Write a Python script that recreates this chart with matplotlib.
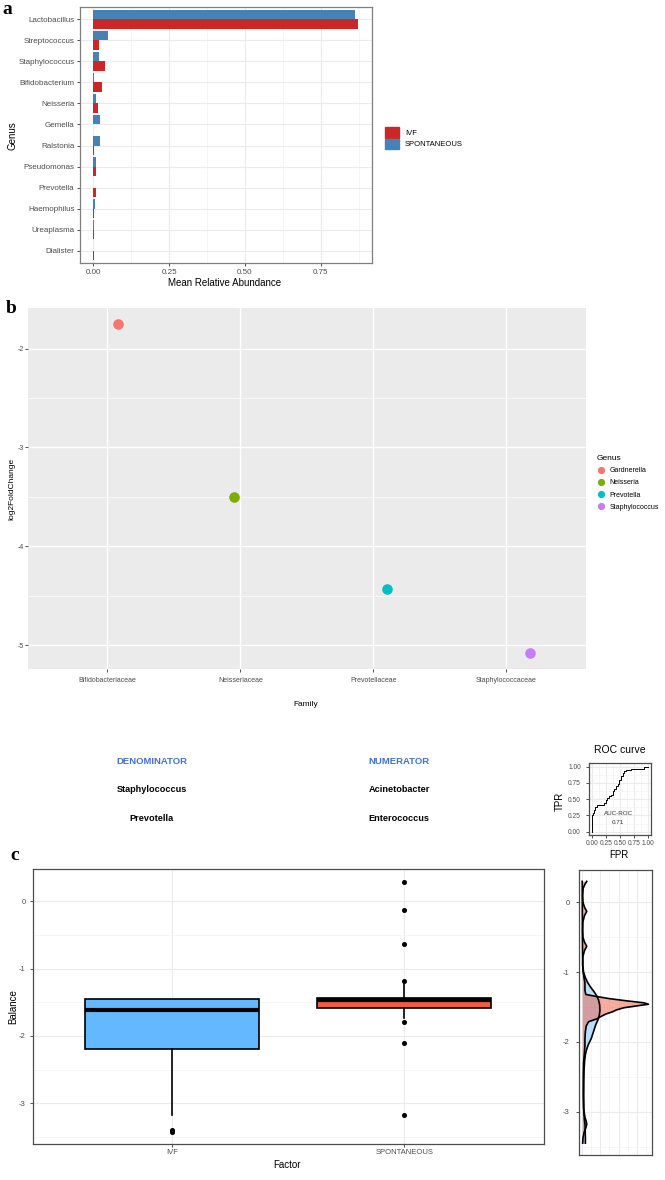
import matplotlib
matplotlib.use('Agg')
import matplotlib.pyplot as plt
from matplotlib.patches import Patch
from matplotlib.lines import Line2D
from matplotlib.ticker import FixedLocator

plt.rcParams['font.family'] = ['Liberation Sans', 'DejaVu Sans']
plt.rcParams['axes.unicode_minus'] = False

W, H = 665, 1180

# ---- data: panel a (mean relative abundance) ----
genera = ['Lactobacillus', 'Streptococcus', 'Staphylococcus', 'Bifidobacterium',
          'Neisseria', 'Gemella', 'Ralstonia', 'Pseudomonas', 'Prevotella',
          'Haemophilus', 'Ureaplasma', 'Dialister']
ivf_abund = [0.874, 0.020, 0.038, 0.030, 0.016, 0.000, 0.003, 0.009, 0.010, 0.003, 0.003, 0.003]
spont_abund = [0.864, 0.048, 0.019, 0.003, 0.008, 0.021, 0.021, 0.010, 0.000, 0.006, 0.004, 0.000]

# ---- data: panel b (log2 fold change) ----
families = ['Bifidobacteriaceae', 'Neisseriaceae', 'Prevotellaceae', 'Staphylococcaceae']
lfc_genus = ['Gardnerella', 'Neisseria', 'Prevotella', 'Staphylococcus']
lfc = [-1.75, -3.50, -4.43, -5.08]
lfc_jitter = [0.08, -0.05, 0.10, 0.18]
genus_colors = ['#F8766D', '#7CAE00', '#00BFC4', '#C77CFF']

# ---- data: panel c (balance) ----
denominator = ['Staphylococcus', 'Prevotella']
numerator = ['Acinetobacter', 'Enterococcus']
auc = 0.71
fpr = [0.00, 0.00, 0.02, 0.04, 0.06, 0.08, 0.22, 0.25, 0.27, 0.30, 0.33, 0.37, 0.40,
       0.43, 0.46, 0.49, 0.52, 0.55, 0.58, 0.61, 0.70, 0.74, 0.93, 0.93, 1.00]
tpr = [0.00, 0.20, 0.25, 0.29, 0.34, 0.38, 0.41, 0.44, 0.48, 0.52, 0.55, 0.57, 0.62,
       0.66, 0.70, 0.74, 0.79, 0.85, 0.90, 0.93, 0.94, 0.96, 0.96, 1.00, 1.00]

factors = ['IVF', 'SPONTANEOUS']
q1 = [-2.20, -1.58]
med = [-1.62, -1.46]
q3 = [-1.45, -1.44]
whislo = [-3.18, -1.73]
whishi = [-1.45, -1.23]
fliers = [[-3.40, -3.43], [0.28, -0.13, -0.63, -1.18, -1.80, -2.10, -3.18]]
box_colors = ['#63B8FF', '#EE5C42']

dens_y_ivf = [0.30, 0.00, -0.50, -0.90, -1.00, -1.08, -1.15, -1.22, -1.28, -1.34, -1.40,
              -1.47, -1.55, -1.62, -1.68, -1.75, -1.85, -1.95, -2.03, -2.10, -2.18, -2.26,
              -2.40, -2.60, -2.80, -3.00, -3.12, -3.20, -3.30, -3.38, -3.45]
dens_ivf = [0.00, 0.01, 0.02, 0.05, 0.15, 0.35, 0.60, 0.95, 1.30, 1.60, 1.80,
            1.92, 1.95, 1.88, 1.75, 1.50, 1.25, 1.00, 0.70, 0.50, 0.35, 0.27,
            0.20, 0.17, 0.16, 0.18, 0.25, 0.32, 0.33, 0.35, 0.35]
dens_y_spont = [0.30, 0.26, 0.20, 0.10, 0.00, -0.07, -0.13, -0.19, -0.28, -0.40, -0.50,
                -0.57, -0.63, -0.69, -0.78, -0.90, -1.00, -1.08, -1.15, -1.20, -1.26,
                -1.32, -1.35, -1.38, -1.41, -1.44, -1.46, -1.48, -1.51, -1.54, -1.57,
                -1.60, -1.64, -1.67, -1.71, -1.77, -1.85, -1.95, -2.05, -2.15, -2.30,
                -2.50, -2.75, -2.95, -3.08, -3.14, -3.18, -3.23, -3.30, -3.38, -3.45]
dens_spont = [0.50, 0.30, 0.10, 0.05, 0.08, 0.25, 0.50, 0.25, 0.07, 0.05, 0.08,
              0.25, 0.50, 0.25, 0.07, 0.06, 0.10, 0.20, 0.30, 0.30, 0.30,
              0.40, 1.60, 3.00, 4.80, 6.80, 7.30, 6.20, 4.60, 3.80, 3.30,
              2.60, 2.00, 1.60, 0.70, 0.45, 0.35, 0.30, 0.30, 0.25, 0.15,
              0.12, 0.12, 0.15, 0.30, 0.45, 0.50, 0.40, 0.20, 0.08, 0.05]

fig = plt.figure(figsize=(W / 100, H / 100), dpi=100)


def box(x0, y0, x1, y1):
    # axes from pixel corners (top-left origin)
    return fig.add_axes([x0 / W, 1 - y1 / H, (x1 - x0) / W, (y1 - y0) / H])


def ftext(px, py, s, **kw):
    return fig.text(px / W, 1 - py / H, s, **kw)


def bw_style(ax, frame='#4D4D4D'):
    ax.set_facecolor('white')
    for sp in ax.spines.values():
        sp.set_color(frame)
        sp.set_linewidth(0.9)
    ax.grid(True, which='major', color='#EBEBEB', lw=0.8)
    ax.grid(True, which='minor', color='#F2F2F2', lw=0.45)
    ax.set_axisbelow(True)


TICK = dict(color='#333333', labelcolor='#4D4D4D', width=0.6)

# ================= panel a =================
ax = box(80, 6.7, 371.7, 263.3)
bw_style(ax, '#7F7F7F')
pos = list(range(len(genera) - 1, -1, -1))
ax.barh([p - 0.225 for p in pos], ivf_abund, height=0.45, color='#CD2626', lw=0, label='IVF')
ax.barh([p + 0.225 for p in pos], spont_abund, height=0.45, color='#4682B4', lw=0, label='SPONTANEOUS')
ax.set_xlim(-0.0437, 0.918)
ax.set_ylim(-0.6, len(genera) - 0.4)
ax.set_yticks(pos)
ax.set_yticklabels(genera)
ax.set_xticks([0, 0.25, 0.5, 0.75])
ax.set_xticklabels(['0.00', '0.25', '0.50', '0.75'])
ax.xaxis.set_minor_locator(FixedLocator([0.125, 0.375, 0.625, 0.875]))
ax.tick_params(which='major', length=2.5, pad=1.5, labelsize=5.8, **TICK)
ax.tick_params(which='minor', length=0)
ftext(12.5, 136, 'Genus', rotation=90, ha='center', va='center', fontsize=7)
ftext(225, 282.7, 'Mean Relative Abundance', ha='center', va='center', fontsize=7)
fig.legend(handles=[Patch(color='#CD2626'), Patch(color='#4682B4')],
           labels=['IVF', 'SPONTANEOUS'], loc='upper left',
           bbox_to_anchor=(385 / W, 1 - 127 / H), frameon=False, fontsize=5.5,
           borderpad=0, borderaxespad=0, handlelength=1.8, handleheight=1.8,
           handletextpad=0.8, labelspacing=0.1)
ftext(2, 9, 'a', fontsize=14, fontweight='bold', family='Liberation Serif', va='center')

# ================= panel b =================
ax = box(27.6, 308, 586.1, 669)
ax.set_facecolor('#EBEBEB')
for sp in ax.spines.values():
    sp.set_visible(False)
ax.grid(True, which='major', color='white', lw=1.0)
ax.grid(True, which='minor', color='white', lw=0.5)
ax.set_axisbelow(True)
for i, g in enumerate(lfc_genus):
    ax.scatter(i + 1 + lfc_jitter[i], lfc[i], s=58, color=genus_colors[i], zorder=3, lw=0)
ax.set_xlim(0.4, len(families) + 0.6)
ax.set_ylim(-5.24, -1.59)
ax.set_xticks(range(1, len(families) + 1))
ax.set_xticklabels(families)
ax.set_yticks([-5, -4, -3, -2])
ax.yaxis.set_minor_locator(FixedLocator([-4.5, -3.5, -2.5]))
ax.tick_params(which='major', length=2, labelsize=5, **TICK)
ax.tick_params(axis='x', pad=3.5)
ax.tick_params(axis='y', pad=0.8)
ax.tick_params(which='minor', length=0)
ftext(11.5, 489, 'log2FoldChange', rotation=90, ha='center', va='center', fontsize=6)
ftext(306, 705, 'Family', ha='center', va='center', fontsize=6)
fig.legend(handles=[Line2D([], [], marker='o', ls='', color=c, markersize=4.2) for c in genus_colors],
           labels=lfc_genus, title='Genus', loc='upper left', alignment='left',
           bbox_to_anchor=(597 / W, 1 - 455 / H), frameon=False, fontsize=5,
           title_fontproperties={'size': 6}, borderpad=0, borderaxespad=0,
           handlelength=1.2, handletextpad=0.6, labelspacing=0.75)
ftext(6, 309, 'b', fontsize=14, fontweight='bold', family='Liberation Serif', va='center')

# ================= balance header =================
ftext(151.7, 761, 'DENOMINATOR', ha='center', va='center', fontsize=6.8,
      fontweight='bold', color='#4472C4')
ftext(399, 761, 'NUMERATOR', ha='center', va='center', fontsize=6.8,
      fontweight='bold', color='#4472C4')
for k, name in enumerate(denominator):
    ftext(151.7, 789.3 + 29 * k, name, ha='center', va='center', fontsize=6.6, fontweight='bold')
for k, name in enumerate(numerator):
    ftext(399, 789.3 + 29 * k, name, ha='center', va='center', fontsize=6.6, fontweight='bold')

# ROC inset
ax = box(589.3, 763.3, 650.7, 835)
bw_style(ax)
ax.plot(fpr, tpr, color='black', lw=0.7, drawstyle='steps-pre')
ax.set_xlim(-0.05, 1.05)
ax.set_ylim(-0.05, 1.05)
tk = [0, 0.25, 0.5, 0.75, 1.0]
tkl = ['0.00', '0.25', '0.50', '0.75', '1.00']
ax.set_xticks(tk)
ax.set_xticklabels(tkl)
ax.set_yticks(tk)
ax.set_yticklabels(tkl)
ax.xaxis.set_minor_locator(FixedLocator([0.125, 0.375, 0.625, 0.875]))
ax.yaxis.set_minor_locator(FixedLocator([0.125, 0.375, 0.625, 0.875]))
ax.tick_params(which='major', length=2.5, labelsize=4.8, **TICK)
ax.tick_params(axis='x', pad=1.2)
ax.tick_params(axis='y', pad=3.5)
ax.tick_params(which='minor', length=0)
ax.text(0.47, 0.28, 'AUC-ROC', ha='center', va='center', fontsize=4.5, color='#333333')
ax.text(0.47, 0.14, f'{auc:.2f}', ha='center', va='center', fontsize=4.5, color='#333333')
ftext(620, 750, 'ROC curve', ha='center', va='center', fontsize=7.5)
ftext(619, 855, 'FPR', ha='center', va='center', fontsize=7)
ftext(560, 801.5, 'TPR', rotation=90, ha='center', va='center', fontsize=7)

# ================= panel c =================
ax = box(32.7, 869.3, 543.7, 1144.3)
bw_style(ax)
stats = [dict(q1=q1[i], med=med[i], q3=q3[i], whislo=whislo[i], whishi=whishi[i],
              fliers=fliers[i], label=factors[i]) for i in range(len(factors))]
bp = ax.bxp(stats, positions=[1, 2], widths=0.75, patch_artist=True, showcaps=False,
            boxprops=dict(lw=1.2, edgecolor='black'),
            whiskerprops=dict(lw=1.2, color='black'),
            medianprops=dict(lw=3, color='black', solid_capstyle='butt'),
            flierprops=dict(marker='o', markersize=2.6, markerfacecolor='black',
                            markeredgecolor='black'))
for patch, c in zip(bp['boxes'], box_colors):
    patch.set_facecolor(c)
ax.set_xlim(0.4, 2.6)
ax.set_ylim(-3.61, 0.475)
ax.set_yticks([-3, -2, -1, 0])
ax.yaxis.set_minor_locator(FixedLocator([-3.5, -2.5, -1.5, -0.5]))
ax.tick_params(which='major', length=2.5, labelsize=5.5, **TICK)
ax.tick_params(axis='x', pad=1.2)
ax.tick_params(axis='y', pad=2.5)
ax.tick_params(which='minor', length=0)
ftext(13.5, 1006.7, 'Balance', rotation=90, ha='center', va='center', fontsize=7)
ftext(287.5, 1165, 'Factor', ha='center', va='center', fontsize=7)
ftext(10, 856, 'c', fontsize=14, fontweight='bold', family='Liberation Serif', va='center')

# density strip
ax = box(578.9, 870, 651.8, 1155)
bw_style(ax)
ax.fill_betweenx(dens_y_ivf, 0, dens_ivf, color=box_colors[0], alpha=0.45, lw=0)
ax.plot(dens_ivf, dens_y_ivf, color='black', lw=1.2)
ax.fill_betweenx(dens_y_spont, 0, dens_spont, color=box_colors[1], alpha=0.5, lw=0)
ax.plot(dens_spont, dens_y_spont, color='black', lw=1.2)
ax.set_xlim(-0.365, 7.665)
ax.set_ylim(-3.62, 0.463)
ax.set_xticks([0, 2, 4, 6])
ax.xaxis.set_minor_locator(FixedLocator([1, 3, 5, 7]))
ax.set_yticks([-3, -2, -1, 0])
ax.yaxis.set_minor_locator(FixedLocator([-3.5, -2.5, -1.5, -0.5]))
ax.tick_params(axis='x', which='both', length=0, labelbottom=False)
ax.tick_params(axis='y', which='major', length=2.5, labelsize=5.5, pad=4, **TICK)
ax.tick_params(axis='y', which='minor', length=0)

fig.savefig('out.png', dpi=100)
